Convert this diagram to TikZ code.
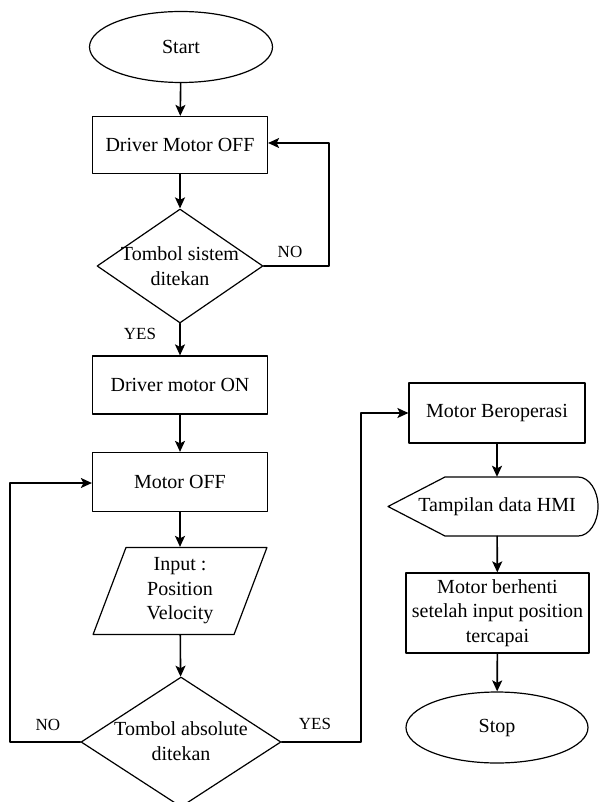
\documentclass[tikz,border=0pt]{standalone}
\usepackage{fontspec}
\setmainfont{Liberation Serif}
\usetikzlibrary{shapes.geometric, arrows.meta, positioning}
\tikzset{>/.tip={Stealth[length=11pt,width=10pt,inset=2.5pt]}}
\tikzset{txt/.style={font=\fontsize{20}{24.5}\selectfont, align=center}}
\tikzset{process/.style={txt, draw, rectangle, line width=1.2pt, minimum width=175pt, minimum height=58pt}}
\tikzset{terminal/.style={txt, draw, ellipse, line width=1.2pt, minimum width=183pt, minimum height=71pt}}
\tikzset{decision/.style={draw, diamond, line width=1.2pt, inner sep=0pt}}
\tikzset{inout/.style={txt, draw, trapezium, trapezium left angle=73, trapezium right angle=107, trapezium stretches=true, line width=1.2pt, minimum width=174pt, minimum height=87pt}}
\tikzset{answer/.style={font=\fontsize{17}{20}\selectfont}}

\begin{document}
\begin{tikzpicture}[line cap=round,line join=round,x=1pt,y=-1pt]
\useasboundingbox (0,0) rectangle (598,802);

% left column
\node[terminal] (start) at (181,47) {Start};
\node[process, minimum height=57pt] (drvoff) at (180,145) {Driver Motor OFF};
\node[decision, minimum width=166pt, minimum height=114pt] (d1) at (180,266) {};
\node[txt] (d1txt) at (180,266) {Tombol sistem\\ditekan};
\node[process] (drvon) at (180,385) {Driver motor ON};
\node[process, minimum height=59pt] (motoff) at (180,482) {Motor OFF};
\node[inout] (input) at (180,591) {Input :\\Position\\Velocity};
\node[decision, minimum width=200pt, minimum height=130pt] (d2) at (181,742) {};
\node[txt] (d2txt) at (181,741) {Tombol absolute\\ditekan};

% right column
\node[process, minimum width=176pt, minimum height=60pt] (motop) at (497,413) {Motor Beroperasi};
\node[txt, minimum width=180pt, minimum height=59pt] (hmi) at (497,506.5) {Tampilan data HMI};
\draw[line width=1.2pt] (388,506.5) -- (445,477) -- (578,477)
 arc[start angle=90, end angle=-90, x radius=20pt, y radius=29.5pt] -- (445,536) -- cycle;
\node[process, minimum width=183pt, minimum height=80pt] (motstop) at (497.5,613) {Motor berhenti\\setelah input position\\tercapai};
\node[terminal, minimum width=182pt] (stop) at (497,727.5) {Stop};

% loop corners
\coordinate (noA) at (329,143);
\coordinate (noB) at (10,483);
\coordinate (yesC) at (361,413);

\draw[->, line width=1.6pt]
 (start) edge (drvoff)
 (drvoff) edge (d1)
 (d1) edge (drvon)
 (drvon) edge (motoff)
 (motoff) edge (input)
 (input) edge (d2)
 (motop) edge (hmi)
 (hmi) edge (motstop)
 (motstop) edge (stop);
\draw[->, line width=1.3pt] (d1.east) -| (noA) -- (drvoff.east |- noA);
\draw[->, line width=1.3pt] (d2.west) -| (noB) -- (motoff.west |- noB);
\draw[->, line width=1.3pt] (d2.east) -| (yesC) -- (motop.west);

\node[answer] (no1) at (290,252) {NO};
\node[answer] (yes1) at (140,334) {YES};
\node[answer] (no2) at (48,725) {NO};
\node[answer] (yes2) at (315,724) {YES};
\end{tikzpicture}
\end{document}
